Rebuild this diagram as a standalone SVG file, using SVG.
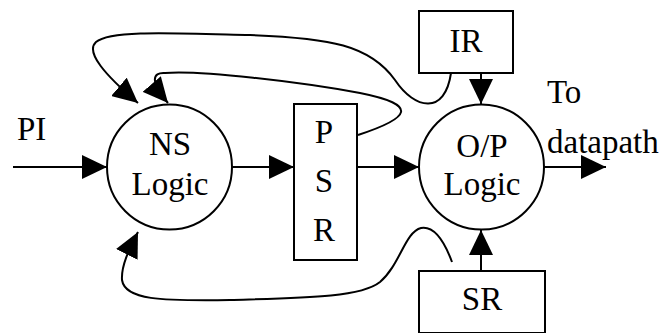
<svg xmlns="http://www.w3.org/2000/svg" width="665" height="333" viewBox="0 0 665 333">
<style>
.s{fill:none;stroke:#000;stroke-width:2}
.b{fill:#fff;stroke:#000;stroke-width:2}
</style>
<defs>
<marker id="ah" markerUnits="userSpaceOnUse" markerWidth="26" markerHeight="24" refX="25" refY="12" orient="auto" viewBox="0 0 26 24">
<path d="M0,0 L25,12 L0,24 z" fill="#000"/>
</marker>
</defs>
<g id="connectors">
<path class="s" d="M13,167 L107,167" marker-end="url(#ah)"/>
<path class="s" d="M232,167 L294,167" marker-end="url(#ah)"/>
<path class="s" d="M357,167 L419,167" marker-end="url(#ah)"/>
<path class="s" d="M544,167 L606,167" marker-end="url(#ah)"/>
<path class="s" d="M481,73 L481,104" marker-end="url(#ah)"/>
<path class="s" d="M481,271 L481,230" marker-end="url(#ah)"/>
<path class="s" d="M451,73 C445,115 415,110 395,80 C370,45 330,38 250,35 C170,33 110,30 96,42 C85,52 105,75 138,103" marker-end="url(#ah)"/>
<path class="s" d="M358,135 C410,118 420,105 360,93 C300,82 200,70 165,73 C152,72 150,82 168,103" marker-end="url(#ah)"/>
<path class="s" d="M452,262 C442,235 432,226 421,228 C405,232 400,265 380,282 C360,298 300,298 230,300 C160,301 125,300 122,280 C121,265 130,248 138,232" marker-end="url(#ah)"/>
</g>
<g id="ns" font-family="Liberation Serif" font-size="33" text-anchor="middle">
<circle class="b" cx="169.5" cy="167" r="62.5"/>
<text x="170" y="155">NS</text>
<text x="170" y="195">Logic</text>
</g>
<g id="psr" font-family="Liberation Serif" font-size="33" text-anchor="middle">
<rect class="b" x="294" y="104" width="63" height="156"/>
<text x="324" y="143">P</text>
<text x="324" y="192">S</text>
<text x="324" y="241">R</text>
</g>
<g id="op" font-family="Liberation Serif" font-size="33" text-anchor="middle">
<circle class="b" cx="481.5" cy="167" r="62.5"/>
<text x="482" y="157">O/P</text>
<text x="482" y="195">Logic</text>
</g>
<g id="ir" font-family="Liberation Serif" font-size="33" text-anchor="middle">
<rect class="b" x="419" y="11" width="94" height="62"/>
<text x="466" y="52">IR</text>
</g>
<g id="sr" font-family="Liberation Serif" font-size="33" text-anchor="middle">
<rect class="b" x="419" y="271" width="126" height="62"/>
<text x="482" y="310">SR</text>
</g>
<g id="labels" font-family="Liberation Serif" font-size="33">
<text x="17" y="140">PI</text>
<text x="547" y="103">To</text>
<text x="547" y="153">datapath</text>
</g>
</svg>
